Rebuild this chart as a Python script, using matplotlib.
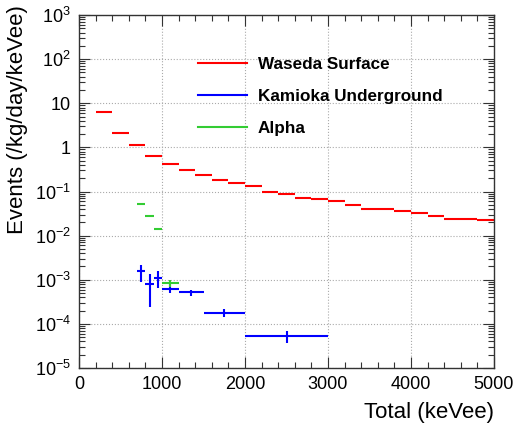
import matplotlib
matplotlib.use("Agg")
import matplotlib.pyplot as plt
import numpy as np
from matplotlib.lines import Line2D
from matplotlib.ticker import FixedLocator, LogLocator, MultipleLocator, NullFormatter

plt.rcParams['font.family'] = ['Liberation Sans', 'DejaVu Sans']
plt.rcParams['mathtext.fontset'] = 'custom'
plt.rcParams['mathtext.rm'] = 'Liberation Sans'
plt.rcParams['mathtext.it'] = 'Liberation Sans'

# Waseda Surface (red)
red_lo = [200, 400, 600, 800, 1000, 1200, 1400, 1600, 1800, 2000, 2200, 2400, 2600, 2800,
          3000, 3200, 3400, 3600, 3800, 4000, 4200, 4400, 4600, 4800]
red_hi = [400, 600, 800, 1000, 1200, 1400, 1600, 1800, 2000, 2200, 2400, 2600, 2800, 3000,
          3200, 3400, 3600, 3800, 4000, 4200, 4400, 4600, 4800, 5000]
red_val = [6.2, 2.1, 1.11, 0.635, 0.425, 0.305, 0.232, 0.184, 0.153, 0.132, 0.100, 0.0873,
           0.072, 0.0662, 0.0606, 0.050, 0.0406, 0.0406, 0.0354, 0.0319, 0.0281, 0.0233,
           0.0233, 0.0221]
red_err = [0.08, 0.03, 0.02, 0.012, 0.008, 0.006, 0.005, 0.004, 0.004, 0.003, 0.003, 0.003,
           0.0025, 0.002, 0.002, 0.002, 0.0015, 0.0015, 0.0015, 0.0015, 0.0013, 0.0012,
           0.0012, 0.0012]

# Kamioka Underground (blue)
blue_lo = [700, 800, 900, 1000, 1200, 1500, 2000]
blue_hi = [800, 900, 1000, 1200, 1500, 2000, 3000]
blue_val = [1.57e-3, 8.07e-4, 1.12e-3, 6.22e-4, 5.15e-4, 1.81e-4, 5.26e-5]
blue_low = [8.95e-4, 2.36e-4, 6.35e-4, 4.89e-4, 4.25e-4, 1.44e-4, 3.78e-5]
blue_up = [2.18e-3, 1.34e-3, 1.54e-3, 7.82e-4, 5.81e-4, 2.19e-4, 6.73e-5]

# Alpha (green)
green_lo = [700, 800, 900, 1000]
green_hi = [800, 900, 1000, 1200]
green_val = [0.0527, 0.0277, 0.0143, 8.24e-4]
green_low = [0.0520, 0.0273, 0.0141, 6.69e-4]
green_up = [0.0534, 0.0281, 0.0145, 9.8e-4]

series = ["Waseda Surface", "Kamioka Underground", "Alpha"]
colors = ["#ff0000", "#0000ff", "#33cc33"]

fig = plt.figure(figsize=(5.15, 4.26), dpi=100)
ax = fig.add_axes([79/515, 1-368/426, (494-79)/515, (368-15)/426])

def draw(lo, hi, val, low, up, color):
    lo = np.array(lo, float); hi = np.array(hi, float); val = np.array(val, float)
    x = (lo + hi) / 2
    xerr = (hi - lo) / 2
    yerr = [val - np.array(low, float), np.array(up, float) - val]
    ax.errorbar(x, val, xerr=xerr, yerr=yerr, fmt='none', ecolor=color, elinewidth=1.5,
                capsize=0)

rv = np.array(red_val); re = np.array(red_err)
draw(red_lo, red_hi, red_val, rv - re, rv + re, colors[0])
draw(blue_lo, blue_hi, blue_val, blue_low, blue_up, colors[1])
draw(green_lo, green_hi, green_val, green_low, green_up, colors[2])

ax.set_yscale('log')
ax.set_xlim(0, 5000)
ax.set_ylim(1e-5, 1e3)

ax.xaxis.set_major_locator(MultipleLocator(1000))
ax.xaxis.set_minor_locator(MultipleLocator(200))
ytick_vals = [1e-5, 1e-4, 1e-3, 1e-2, 1e-1, 1, 10, 1e2, 1e3]
ytick_labels = [r'$\mathregular{10^{-5}}$', r'$\mathregular{10^{-4}}$', r'$\mathregular{10^{-3}}$',
                r'$\mathregular{10^{-2}}$', r'$\mathregular{10^{-1}}$', '1', '10',
                r'$\mathregular{10^{2}}$', r'$\mathregular{10^{3}}$']
ax.yaxis.set_major_locator(FixedLocator(ytick_vals))
ax.set_yticklabels(ytick_labels)
ax.yaxis.set_minor_locator(LogLocator(base=10, subs=np.arange(2, 10), numticks=20))
ax.yaxis.set_minor_formatter(NullFormatter())

ax.tick_params(which='both', direction='in', top=True, right=True, labelsize=13, width=0.8,
               colors='#333333', labelcolor='black')
ax.tick_params(which='major', length=8, pad=6)
ax.tick_params(which='minor', length=4)
ax.grid(True, which='major', linestyle=':', color='#aaaaaa', linewidth=0.8)
for s in ax.spines.values():
    s.set_linewidth(1.0)
    s.set_color('#333333')

ax.set_xlabel('Total (keVee)', fontsize=16)
ax.xaxis.set_label_coords(1.0, -0.095)
ax.xaxis.label.set_horizontalalignment('right')
ax.set_ylabel('Events (/kg/day/keVee)', fontsize=16)
ax.yaxis.set_label_coords(-0.147, 1.028)
ax.yaxis.label.set_rotation_mode('anchor')
ax.yaxis.label.set_horizontalalignment('right')
ax.yaxis.label.set_verticalalignment('center')

handles = [Line2D([], [], color=c, linewidth=1.5) for c in colors]
ax.legend(handles, series, loc='upper left', bbox_to_anchor=(0.25, 0.925), frameon=False,
          handlelength=2.85, handletextpad=0.65, labelspacing=1.0,
          prop={'weight': 'bold', 'size': 12.3})

fig.savefig('out.png', dpi=100)
